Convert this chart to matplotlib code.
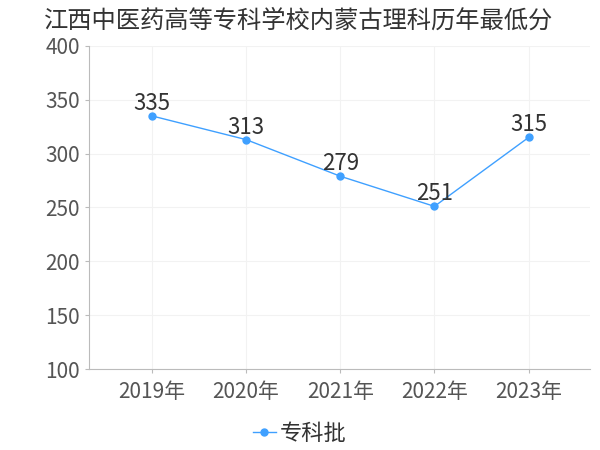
import matplotlib
matplotlib.use("Agg")
import matplotlib.pyplot as plt

plt.rcParams['font.family'] = ['Noto Sans CJK SC', 'DejaVu Sans']

years = ["2019年", "2020年", "2021年", "2022年", "2023年"]
scores = [335, 313, 279, 251, 315]
series_name = "专科批"

fig = plt.figure(figsize=(6, 4.5), dpi=100)
ax = fig.add_axes([0.148, 0.18, 0.835, 0.718])

x = list(range(len(years)))
ax.plot(x, scores, color='#3fa0ff', linewidth=1, marker='o', markersize=5,
        label=series_name)
for xi, v in zip(x, scores):
    ax.text(xi, v + 1, str(v), ha='center', va='bottom', fontsize=16, color='#333333')

ax.set_xlim(-0.67, 4.65)
ax.set_ylim(100, 400)
ax.set_yticks(range(100, 401, 50))
ax.set_xticks(x)
ax.set_xticklabels(years)
ax.tick_params(axis='both', labelsize=15, colors='#555555', length=3, color='#bbbbbb')
ax.tick_params(axis='x', pad=6)
ax.grid(True, color='#f2f2f2', linewidth=0.8)
for s in ['top', 'right']:
    ax.spines[s].set_visible(False)
for s in ['left', 'bottom']:
    ax.spines[s].set_color('#bbbbbb')

fig.text(0.073, 0.955, "江西中医药高等专科学校内蒙古理科历年最低分", fontsize=17.5,
         color='#333333', ha='left', va='center')
fig.legend(loc='center', bbox_to_anchor=(0.5, 0.037), frameon=False, fontsize=16,
           handlelength=1.0, handletextpad=0.2, labelcolor='#333333')

fig.savefig("out.png", dpi=100)
